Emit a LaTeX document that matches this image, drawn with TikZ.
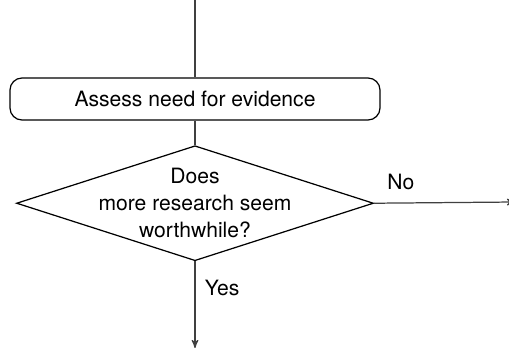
\documentclass[tikz,border=0pt]{standalone}
\usepackage{fontspec}
\setmainfont{TeX Gyre Heros}
\usetikzlibrary{shapes.geometric, positioning, arrows}

\begin{document}
\begin{tikzpicture}[>=stealth', line width=0.7pt, font=\fontsize{12}{15.3}\selectfont]
    \tikzset{
        process/.style={draw, rounded corners=0.24cm, minimum width=7.4cm, minimum height=0.84cm},
        decision/.style={draw, diamond, inner sep=0pt, minimum width=7.14cm, minimum height=2.3cm},
        line/.style={draw, black!75}
    }
    \useasboundingbox (0,0) rectangle (10.18,6.98);
    \coordinate (in) at (3.9,6.98);
    \node[process] (assess) at (3.9,5.0) {Assess need for evidence};
    \node[decision] (worth) [below=0.49cm of assess] {};
    \node[align=center] (worthtext) at (worth) {Does\\more research seem\\worthwhile?};
    \coordinate (noend) at (10.3,2.94);
    \coordinate (yesend) at (3.9,0.02);

    \path[line] (in) -- (assess);
    \path[line] (assess) -- (worth);
    \path[line, ->] (worth.east) -- node[above=4pt, pos=0.19, black] {No} (noend);
    \path[line, ->] (worth.south) -- node[right=2pt, pos=0.31, black] {Yes} (yesend);
\end{tikzpicture}
\end{document}
